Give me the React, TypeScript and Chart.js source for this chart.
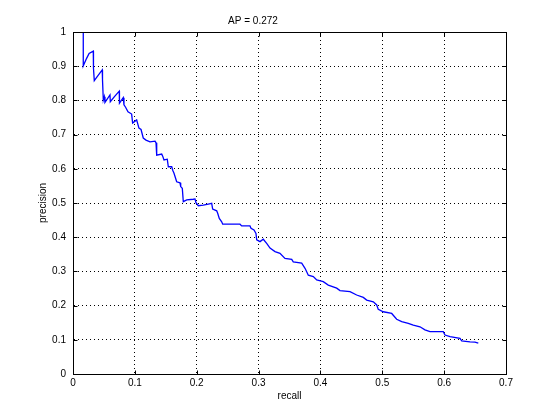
import React, { useEffect, useRef } from "react";
import { Chart, registerables } from "chart.js";

Chart.register(...registerables);

const chartTitle = "AP = 0.272";
const xAxisLabel = "recall";
const yAxisLabel = "precision";
const xTickLabels = ["0", "0.1", "0.2", "0.3", "0.4", "0.5", "0.6", "0.7"];
const yTickLabels = ["0", "0.1", "0.2", "0.3", "0.4", "0.5", "0.6", "0.7", "0.8", "0.9", "1"];

const recall = [
  0.0166, 0.0166, 0.022, 0.026, 0.0328, 0.0331, 0.0344, 0.040, 0.0473, 0.0477,
  0.049, 0.0506, 0.0517, 0.0598, 0.0603, 0.067, 0.0748, 0.0751, 0.0813, 0.0824,
  0.085, 0.0889, 0.0948, 0.0964, 0.1029, 0.1066, 0.110, 0.1136, 0.118, 0.1245,
  0.1326, 0.1342, 0.1353, 0.1434, 0.1450, 0.1471, 0.1524, 0.1541, 0.1596, 0.1612,
  0.1633, 0.1676, 0.1730, 0.1741, 0.1767, 0.1783, 0.1838, 0.1945, 0.1972, 0.1988,
  0.2026, 0.2106, 0.2187, 0.2242, 0.2258, 0.2323, 0.2339, 0.2365, 0.2404, 0.2420,
  0.2700, 0.2727, 0.2861, 0.2878, 0.2926, 0.2958, 0.2970, 0.3023, 0.3076, 0.3131,
  0.3185, 0.3266, 0.3346, 0.3427, 0.3536, 0.3561, 0.3697, 0.3751, 0.3804, 0.3885,
  0.3940, 0.4046, 0.4127, 0.4263, 0.4316, 0.4478, 0.4586, 0.4693, 0.4748, 0.4855,
  0.4910, 0.4935, 0.5016, 0.5152, 0.5233, 0.5314, 0.5420, 0.5501, 0.5609, 0.5690,
  0.5771, 0.5986, 0.6014, 0.6095, 0.6256, 0.6284, 0.6418, 0.6499, 0.6552,
];

const precision = [
  1.0, 0.901, 0.923, 0.937, 0.944, 0.894, 0.858, 0.872, 0.889, 0.860,
  0.801, 0.811, 0.794, 0.816, 0.796, 0.811, 0.827, 0.792, 0.808, 0.787,
  0.780, 0.767, 0.760, 0.734, 0.743, 0.719, 0.715, 0.690, 0.684, 0.679,
  0.681, 0.676, 0.640, 0.643, 0.637, 0.626, 0.628, 0.606, 0.606, 0.596,
  0.587, 0.562, 0.559, 0.548, 0.543, 0.504, 0.509, 0.511, 0.512, 0.501,
  0.492, 0.494, 0.497, 0.499, 0.482, 0.477, 0.470, 0.455, 0.445, 0.438,
  0.438, 0.433, 0.433, 0.426, 0.421, 0.411, 0.392, 0.387, 0.394, 0.382,
  0.368, 0.358, 0.353, 0.338, 0.335, 0.328, 0.324, 0.309, 0.289, 0.285,
  0.275, 0.270, 0.260, 0.251, 0.244, 0.241, 0.231, 0.224, 0.216, 0.211,
  0.202, 0.189, 0.182, 0.177, 0.160, 0.153, 0.148, 0.143, 0.138, 0.129,
  0.124, 0.124, 0.114, 0.109, 0.104, 0.097, 0.094, 0.093, 0.090,
];

const FONT = "'Liberation Sans', Arial, Helvetica, sans-serif";

const boxAndTicks = {
  id: "boxAndTicks",
  afterDraw(chart: any) {
    const { ctx, chartArea } = chart;
    const { left, right, top, bottom } = chartArea;
    const xs = chart.scales.x;
    const ys = chart.scales.y;
    const L = Math.round(left) + 0.5;
    const R = Math.round(right) + 0.5;
    const T = Math.round(top) + 0.5;
    const B = Math.round(bottom) + 0.5;
    ctx.save();
    ctx.strokeStyle = "#000";
    ctx.lineWidth = 1;
    ctx.setLineDash([]);
    ctx.beginPath();
    ctx.rect(L, T, R - L, B - T);
    const tl = 4;
    xs.ticks.forEach((t: any) => {
      const px = Math.round(xs.getPixelForValue(t.value)) + 0.5;
      ctx.moveTo(px, B);
      ctx.lineTo(px, B - tl);
      ctx.moveTo(px, T);
      ctx.lineTo(px, T + tl);
    });
    ys.ticks.forEach((t: any) => {
      const py = Math.round(ys.getPixelForValue(t.value)) + 0.5;
      ctx.moveTo(L, py);
      ctx.lineTo(L + tl, py);
      ctx.moveTo(R, py);
      ctx.lineTo(R - tl, py);
    });
    ctx.stroke();
    ctx.restore();
  },
};

export default function App() {
  const ref = useRef<HTMLCanvasElement | null>(null);

  useEffect(() => {
    if (!ref.current) return;
    const points = recall.map((r, i) => ({ x: r, y: precision[i] }));
    const chart = new Chart(ref.current, {
      type: "scatter",
      data: {
        datasets: [
          {
            data: points,
            showLine: true,
            borderColor: "#0000ff",
            backgroundColor: "#0000ff",
            borderWidth: 1.3,
            pointRadius: 0,
            tension: 0,
          },
        ],
      },
      options: {
        responsive: false,
        animation: false,
        events: [],
        layout: { padding: { left: 0, right: 54, top: 0, bottom: 0 } },
        plugins: {
          legend: { display: false },
          tooltip: { enabled: false },
          title: {
            display: true,
            text: chartTitle,
            color: "#000",
            font: { family: FONT, size: 10, weight: "normal", lineHeight: 1.2 },
            padding: { top: 15, bottom: 5 },
          },
        },
        scales: {
          x: {
            type: "linear",
            min: 0,
            max: 0.7,
            afterFit: (s: any) => {
              s.height = 46;
            },
            ticks: {
              stepSize: 0.1,
              color: "#000",
              padding: 3,
              maxRotation: 0,
              font: { family: FONT, size: 10 },
              callback: (_v: any, i: number) => xTickLabels[i],
            },
            grid: { color: "#000", lineWidth: 1, drawTicks: false },
            border: { display: true, color: "#000", width: 1, dash: [1, 3] },
            title: {
              display: true,
              text: xAxisLabel,
              color: "#000",
              font: { family: FONT, size: 10 },
              padding: { top: 0, bottom: 18 },
            },
          },
          y: {
            type: "linear",
            min: 0,
            max: 1,
            afterFit: (s: any) => {
              s.width = 73;
            },
            ticks: {
              stepSize: 0.1,
              color: "#000",
              padding: 7,
              font: { family: FONT, size: 10 },
              callback: (_v: any, i: number) => yTickLabels[i],
            },
            grid: { color: "#000", lineWidth: 1, drawTicks: false },
            border: { display: true, color: "#000", width: 1, dash: [1, 3] },
            title: {
              display: true,
              text: yAxisLabel,
              color: "#000",
              font: { family: FONT, size: 10 },
              padding: { top: 37, bottom: 0 },
            },
          },
        },
      },
      plugins: [boxAndTicks],
    });
    return () => chart.destroy();
  }, []);

  return (
    <div style={{ position: "absolute", left: 0, top: 0, width: 560, height: 420, background: "#fff" }}>
      <canvas ref={ref} width={560} height={420} style={{ display: "block" }} />
    </div>
  );
}
